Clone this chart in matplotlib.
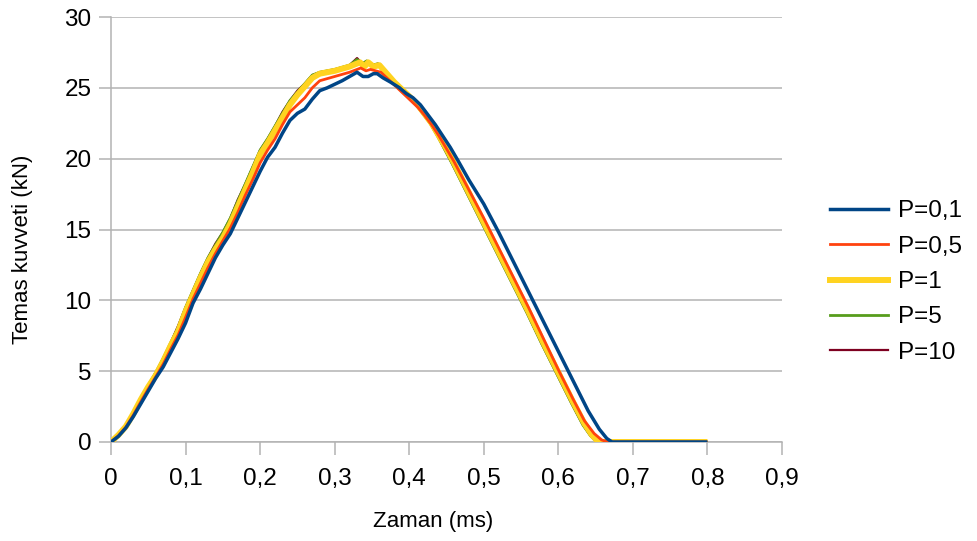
import matplotlib
matplotlib.use("Agg")
import matplotlib.pyplot as plt
from matplotlib.lines import Line2D

plt.rcParams['font.family'] = ['Liberation Sans', 'DejaVu Sans']

# ---------------- data ----------------
labels = ["P=0,1", "P=0,5", "P=1", "P=5", "P=10"]
colors = ["#004586", "#ff420e", "#ffd320", "#579d1c", "#7e0021"]
widths = [2.5, 2.0, 4.3, 2.0, 1.6]

t_p01 = [0, 0.01, 0.02, 0.03, 0.04, 0.05, 0.06, 0.07, 0.08, 0.09, 0.1, 0.11, 0.12, 0.13, 0.14,
         0.15, 0.16, 0.17, 0.18, 0.19, 0.2, 0.21, 0.22, 0.23, 0.24, 0.25, 0.26, 0.27, 0.28, 0.29,
         0.31, 0.33, 0.338, 0.345, 0.352, 0.357, 0.365, 0.375, 0.387, 0.396, 0.405, 0.415, 0.425,
         0.435, 0.445, 0.455, 0.465, 0.48, 0.5, 0.52, 0.54, 0.56, 0.58, 0.6, 0.62, 0.64, 0.655,
         0.665, 0.672, 0.8]
f_p01 = [0, 0.4, 1.0, 1.8, 2.7, 3.6, 4.5, 5.3, 6.3, 7.3, 8.4, 9.8, 10.8, 11.9, 13.0,
         13.9, 14.7, 15.8, 16.9, 18.0, 19.1, 20.1, 20.8, 21.8, 22.7, 23.2, 23.5, 24.2, 24.8, 25.0,
         25.5, 26.1, 25.8, 25.8, 26.0, 26.0, 25.7, 25.4, 25.0, 24.6, 24.3, 23.8, 23.1,
         22.4, 21.6, 20.8, 19.9, 18.5, 16.8, 14.8, 12.7, 10.6, 8.5, 6.4, 4.3, 2.2, 0.9,
         0.25, 0.0, 0.0]

t_p05 = [0, 0.01, 0.02, 0.03, 0.04, 0.05, 0.06, 0.07, 0.08, 0.09, 0.1, 0.11, 0.12, 0.13, 0.14,
         0.15, 0.16, 0.17, 0.18, 0.19, 0.2, 0.21, 0.22, 0.23, 0.24, 0.25, 0.26, 0.27, 0.28, 0.3,
         0.32, 0.335, 0.342, 0.348, 0.355, 0.362, 0.372, 0.382, 0.392, 0.402, 0.412, 0.42, 0.43,
         0.44, 0.45, 0.46, 0.48, 0.5, 0.52, 0.54, 0.56, 0.58, 0.6, 0.62, 0.635, 0.648, 0.658,
         0.666, 0.8]
f_p05 = [0, 0.45, 1.05, 1.9, 2.85, 3.75, 4.6, 5.5, 6.55, 7.55, 8.8, 10.1, 11.2, 12.3, 13.3,
         14.2, 15.1, 16.2, 17.4, 18.5, 19.7, 20.6, 21.4, 22.4, 23.3, 23.8, 24.3, 25.0, 25.5, 25.8,
         26.1, 26.4, 26.2, 26.3, 26.2, 26.1, 25.6, 25.1, 24.6, 24.1, 23.6, 23.1, 22.4,
         21.6, 20.7, 19.8, 17.8, 15.8, 13.7, 11.6, 9.5, 7.3, 5.1, 3.0, 1.5, 0.6, 0.15,
         0.0, 0.0]

t_p1 = [0, 0.01, 0.02, 0.03, 0.04, 0.05, 0.06, 0.07, 0.08, 0.09, 0.1, 0.11, 0.12, 0.13, 0.14,
        0.15, 0.16, 0.17, 0.18, 0.19, 0.2, 0.21, 0.22, 0.23, 0.24, 0.25, 0.26, 0.27, 0.28, 0.3,
        0.32, 0.334, 0.34, 0.345, 0.352, 0.36, 0.37, 0.38, 0.39, 0.4, 0.41, 0.42, 0.43, 0.44,
        0.45, 0.46, 0.48, 0.5, 0.52, 0.54, 0.56, 0.58, 0.6, 0.62, 0.635, 0.645, 0.652, 0.659, 0.8]
f_p1 = [0, 0.5, 1.1, 2.0, 3.0, 3.9, 4.7, 5.7, 6.8, 7.8, 9.2, 10.4, 11.6, 12.7, 13.6,
        14.4, 15.4, 16.6, 17.8, 19.0, 20.3, 21.1, 22.0, 22.9, 23.8, 24.5, 25.1, 25.7, 26.0, 26.2,
        26.5, 26.8, 26.5, 26.8, 26.5, 26.6, 26.0, 25.4, 24.9, 24.4, 23.9, 23.2, 22.5, 21.6,
        20.7, 19.7, 17.6, 15.5, 13.4, 11.3, 9.2, 7.0, 4.9, 2.8, 1.3, 0.5, 0.1, 0.0, 0.0]

t_p5 = [0, 0.01, 0.02, 0.03, 0.04, 0.05, 0.06, 0.07, 0.08, 0.09, 0.1, 0.11, 0.12, 0.13, 0.14,
        0.15, 0.16, 0.17, 0.18, 0.19, 0.2, 0.21, 0.22, 0.23, 0.24, 0.25, 0.26, 0.27, 0.28, 0.3,
        0.32, 0.33, 0.337, 0.343, 0.35, 0.358, 0.368, 0.378, 0.388, 0.398, 0.408, 0.418, 0.428,
        0.438, 0.448, 0.458, 0.478, 0.498, 0.518, 0.538, 0.558, 0.578, 0.598, 0.618, 0.633,
        0.643, 0.65, 0.656, 0.8]
f_p5 = [0, 0.5, 1.15, 2.1, 3.1, 4.0, 4.9, 5.9, 7.0, 8.1, 9.5, 10.7, 11.9, 13.0, 13.9,
        14.8, 15.8, 17.0, 18.2, 19.4, 20.6, 21.4, 22.3, 23.2, 24.1, 24.7, 25.3, 25.9, 26.1, 26.3,
        26.6, 27.0, 26.7, 26.9, 26.6, 26.7, 26.1, 25.5, 25.0, 24.4, 23.9, 23.2, 22.5,
        21.6, 20.6, 19.6, 17.5, 15.4, 13.3, 11.2, 9.1, 6.9, 4.8, 2.7, 1.2,
        0.45, 0.1, 0.0, 0.0]

t_p10 = [0, 0.01, 0.02, 0.03, 0.04, 0.05, 0.06, 0.07, 0.08, 0.09, 0.1, 0.11, 0.12, 0.13, 0.14,
         0.15, 0.16, 0.17, 0.18, 0.19, 0.2, 0.21, 0.22, 0.23, 0.24, 0.25, 0.26, 0.27, 0.28, 0.3,
         0.32, 0.33, 0.337, 0.343, 0.35, 0.358, 0.368, 0.378, 0.388, 0.398, 0.408, 0.418, 0.428,
         0.438, 0.448, 0.458, 0.478, 0.498, 0.518, 0.538, 0.558, 0.578, 0.598, 0.618, 0.633,
         0.643, 0.65, 0.656, 0.8]
f_p10 = [0, 0.5, 1.15, 2.1, 3.1, 4.0, 4.9, 5.9, 7.0, 8.2, 9.5, 10.7, 11.9, 13.0, 14.0,
         14.8, 15.8, 17.1, 18.2, 19.4, 20.6, 21.4, 22.3, 23.3, 24.1, 24.8, 25.3, 25.9, 26.1, 26.3,
         26.6, 27.1, 26.7, 26.9, 26.6, 26.7, 26.1, 25.5, 25.0, 24.4, 23.9, 23.2, 22.5,
         21.6, 20.6, 19.6, 17.5, 15.4, 13.3, 11.2, 9.1, 6.9, 4.8, 2.7, 1.2,
         0.45, 0.1, 0.0, 0.0]

x_ticks = [0, 0.1, 0.2, 0.3, 0.4, 0.5, 0.6, 0.7, 0.8, 0.9]
x_tick_labels = ["0", "0,1", "0,2", "0,3", "0,4", "0,5", "0,6", "0,7", "0,8", "0,9"]
y_ticks = [0, 5, 10, 15, 20, 25, 30]
y_tick_labels = ["0", "5", "10", "15", "20", "25", "30"]
x_label = "Zaman (ms)"
y_label = "Temas kuvveti (kN)"

series = [(t_p01, f_p01), (t_p05, f_p05), (t_p1, f_p1), (t_p5, f_p5), (t_p10, f_p10)]
zorders = [7, 6, 5, 4, 3]

# ---------------- figure ----------------
fig = plt.figure(figsize=(9.78, 5.41), dpi=100)
ax = fig.add_axes([111 / 978, 1 - 442 / 541, (782 - 111) / 978, (442 - 17) / 541])

grey = "#b3b3b3"
for (t, f), c, w, z in zip(series, colors, widths, zorders):
    ax.plot(t, f, color=c, lw=w, zorder=z, solid_joinstyle="round", solid_capstyle="butt")

ax.set_xlim(0, 0.9)
ax.set_ylim(0, 30)
ax.set_xticks(x_ticks)
ax.set_xticklabels(x_tick_labels)
ax.set_yticks(y_ticks)
ax.set_yticklabels(y_tick_labels)
ax.yaxis.grid(True, color=grey, lw=1.1)
ax.set_axisbelow(True)
for s in ["top", "right"]:
    ax.spines[s].set_visible(False)
for s in ["left", "bottom"]:
    ax.spines[s].set_color(grey)
    ax.spines[s].set_linewidth(1.1)
ax.tick_params(axis="both", length=9, width=1.1, color=grey, labelsize=17.5,
               labelcolor="black")
ax.tick_params(axis="x", pad=10)
ax.tick_params(axis="y", pad=5)

fig.text(433 / 978, 1 - 522 / 541, x_label, ha="center", va="center", fontsize=16)
fig.text(23 / 978, 1 - 249 / 541, y_label, ha="center", va="center", rotation=90, fontsize=16)

handles = [Line2D([0], [0], color=c, lw=w) for c, w in zip(colors, widths)]
leg = fig.legend(handles, labels, loc="center left", bbox_to_anchor=(830 / 978, 1 - 282 / 541),
                 frameon=False, fontsize=17.5, handlelength=2.4, handletextpad=0.4,
                 labelspacing=0.55, borderpad=0, borderaxespad=0)

fig.savefig("out.png", dpi=100)
